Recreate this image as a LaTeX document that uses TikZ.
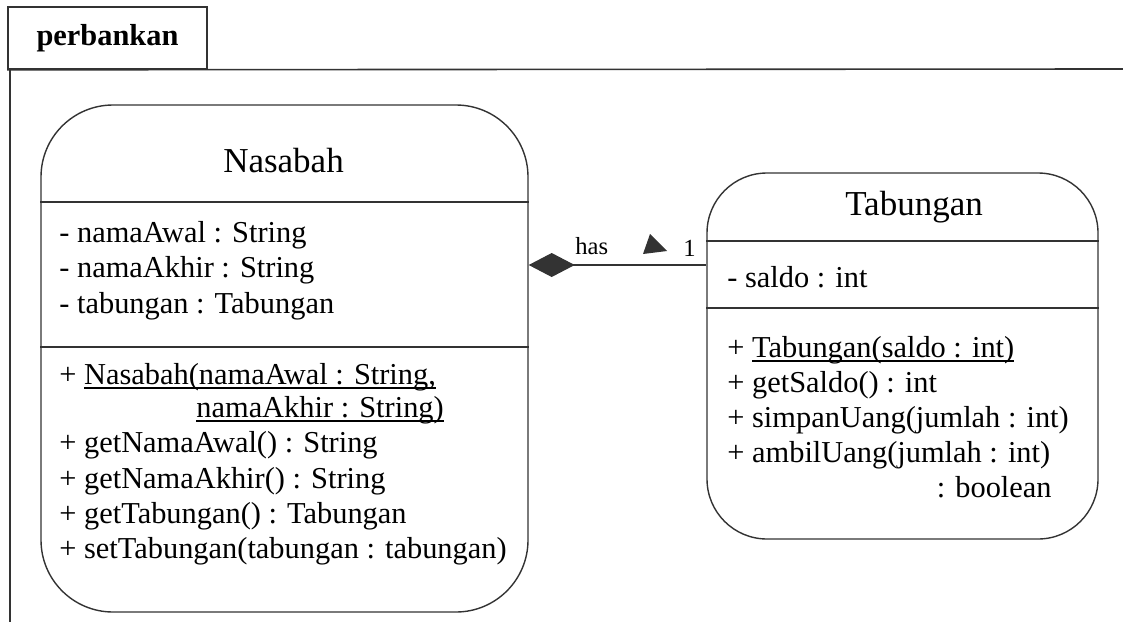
\documentclass[tikz,border=0pt]{standalone}
\usepackage{fontspec}
\setmainfont{Liberation Serif}
\usetikzlibrary{arrows.meta}
\newsavebox{\ctorbox}
\newcommand{\ctor}[1]{\sbox{\ctorbox}{#1}\rlap{\rule[-2.3pt]{\wd\ctorbox}{0.7pt}}\usebox{\ctorbox}}
\begin{document}
\begin{tikzpicture}[x=0.5pt, y=-0.5pt,
    frame/.style = {line width=0.8pt, black!80},
    classbox/.style = {draw, line width=0.7pt, black!80},
    member/.style = {anchor=base west, inner sep=0pt, font=\fontsize{15.2}{18}\selectfont},
    classname/.style = {anchor=base, inner sep=0pt, font=\fontsize{17.5}{21}\selectfont},
    assoclabel/.style = {anchor=base west, inner sep=0pt, font=\fontsize{12.3}{15}\selectfont},
    composition/.style = {line width=0.7pt, black!80, {Diamond[length=23pt,width=12pt]}-}]
                \useasboundingbox (0,0) rectangle (1123,621);

                \node[frame, draw, minimum width=99.5pt, minimum height=31pt, text=black,
                    font=\bfseries\fontsize{15.2}{18}\selectfont] (pkg) at (107.5,38) {perbankan};
                \draw[frame] (pkg.south west) -- (1123,69);
                \draw[frame] ([xshift=1.5pt]pkg.south west) -- ++(0,560);

                \node[classbox, rounded corners=36pt, minimum width=243.5pt, minimum height=253.5pt]
                    (nasabah) at (284.5,358.5) {};
                \node[classbox, rounded corners=30pt, minimum width=195.5pt, minimum height=183pt]
                    (tabungan) at (902.5,356) {};

                \draw[classbox] (nasabah.west |- 0,202) -- (nasabah.east |- 0,202);
                \draw[classbox] (nasabah.west |- 0,347) -- (nasabah.east |- 0,347);
                \draw[classbox] (tabungan.west |- 0,241) -- (tabungan.east |- 0,241);
                \draw[classbox] (tabungan.west |- 0,308) -- (tabungan.east |- 0,308);

                \node[classname] (nTitle) at (283.5,172) {Nasabah};
                \node[member] (nAttr1) at (59,242) {- namaAwal : String};
                \node[member] (nAttr2) at (59,277) {- namaAkhir : String};
                \node[member] (nAttr3) at (59,313) {- tabungan : Tabungan};
                \node[member] (nOp1) at (59,384) {+ \ctor{Nasabah(namaAwal : String,}};
                \node[member] (nOp1b) at (196,417) {\ctor{namaAkhir : String)}};
                \node[member] (nOp2) at (59,452) {+ getNamaAwal() : String};
                \node[member] (nOp3) at (59,488) {+ getNamaAkhir() : String};
                \node[member] (nOp4) at (59,523) {+ getTabungan() : Tabungan};
                \node[member] (nOp5) at (59,558) {+ setTabungan(tabungan : tabungan)};

                \node[classname] (tTitle) at (914,215) {Tabungan};
                \node[member] (tAttr1) at (727,287) {- saldo : int};
                \node[member] (tOp1) at (727,357) {+ \ctor{Tabungan(saldo : int)}};
                \node[member] (tOp2) at (727,392) {+ getSaldo() : int};
                \node[member] (tOp3) at (727,427) {+ simpanUang(jumlah : int)};
                \node[member] (tOp4) at (727,462) {+ ambilUang(jumlah : int)};
                \node[member, anchor=base east] (tOp4b) at (1052,497) {: boolean};

                \path (nasabah.east) ++(0,-93.5) coordinate (hasA);
                \draw[composition] (hasA) -- (hasA -| tabungan.west);
                \node[assoclabel] (hasLabel) at (575,254) {has};
                \node[assoclabel] (hasMult) at (683,256) {1};
                \fill[black!80] (650,234) -- (643,254) -- (667,251) -- cycle;
            \end{tikzpicture}
\end{document}
